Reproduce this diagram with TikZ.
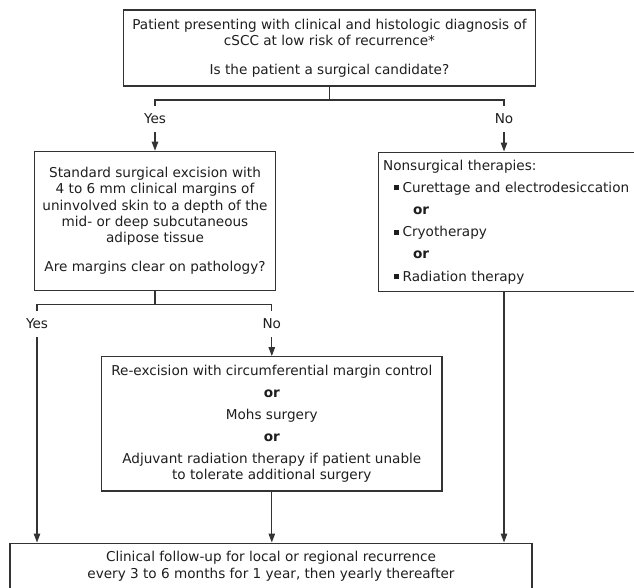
\documentclass[tikz,border=0pt]{standalone}
\usepackage{fontspec}
\setmainfont{DejaVu Sans}
\usepackage{xcolor}
\usetikzlibrary{arrows.meta}

\definecolor{ink}{HTML}{1E1E1E}
\definecolor{rule}{HTML}{333333}
\newcommand{\sqbul}{\rule[2pt]{5pt}{5pt}}

\begin{document}
\begin{tikzpicture}[x=1pt, y=-1pt,
    box/.style={draw=rule, line width=1.2pt, text=ink, align=center, inner sep=0pt,
        font=\fontsize{13.6pt}{16.3pt}\selectfont},
    lbl/.style={text=ink, inner sep=0pt, minimum height=26pt, font=\fontsize{13.6pt}{15pt}\selectfont},
    wire/.style={draw=rule, line width=1.2pt},
    arr/.style={wire, -{Triangle[length=9pt, width=6.5pt]}}]

        \useasboundingbox (0,0) rectangle (634,587);
        \clip (0,0) rectangle (634,587);

        \node[box, minimum width=412pt, minimum height=76pt] (cand) at (329.5,48)
            {Patient presenting with clinical and histologic diagnosis of\\
             cSCC at low risk of recurrence*\\[12.7pt]
             Is the patient a surgical candidate?};
        \node[lbl] (yes1) at (155,119) {Yes};
        \node[lbl] (no1) at (504,119) {No};
        \node[box, minimum width=240.5pt, minimum height=139.5pt] (surg) at (155,221)
            {Standard surgical excision with\\
             4 to 6 mm clinical margins of\\
             uninvolved skin to a depth of the\\
             mid- or deep subcutaneous\\
             adipose tissue\\[12.7pt]
             Are margins clear on pathology?};
        \node[box, anchor=north west, text width=262pt, minimum height=139.5pt, align=left,
            inner xsep=4.5pt, font=\fontsize{13.6pt}{22.2pt}\selectfont] (nonsurg) at (378,151.5)
            {Nonsurgical therapies:\\
             \hspace*{10.5pt}\sqbul\hspace{4pt}Curettage and electrodesiccation\\
             \hspace*{30pt}\textbf{or}\\
             \hspace*{10.5pt}\sqbul\hspace{4pt}Cryotherapy\\
             \hspace*{30pt}\textbf{or}\\
             \hspace*{10.5pt}\sqbul\hspace{4pt}Radiation therapy};
        \node[lbl] (yes2) at (37,324) {Yes};
        \node[lbl] (no2) at (271.8,324) {No};
        \node[box, minimum width=340.4pt, minimum height=134.3pt] (redo) at (271.8,423.8)
            {Re-excision with circumferential margin control\\[5.7pt]
             \textbf{or}\\[5.7pt]
             Mohs surgery\\[5.7pt]
             \textbf{or}\\[5.7pt]
             Adjuvant radiation therapy if patient unable\\
             to tolerate additional surgery};
        \node[box, anchor=north, minimum width=522pt, minimum height=46pt] (follow) at (271,542.5)
            {Clinical follow-up for local or regional recurrence\\
             every 3 to 6 months for 1 year, then yearly thereafter};

        % forks
        \coordinate (fork1) at (329.5,100);
        \coordinate (fork2) at (155,304.5);
        \draw[wire] (cand.south) -- (fork1);
        \draw[wire] (yes1.north) |- (fork1) -| (no1.north);
        \draw[wire] (surg.south) -- (fork2);
        \draw[wire] (yes2.north) |- (fork2) -| (no2.north);

        % arrows
        \draw[arr] (yes1.south) -- (surg.north);
        \draw[arr] (no1.south) -- (no1.south |- nonsurg.north);
        \draw[arr] (no2.south) -- (no2.south |- redo.north);
        \draw[arr] (yes2.south) -- (yes2.south |- follow.north);
        \draw[arr] (redo.south) -- (redo.south |- follow.north);
        \draw[arr] (no1.south |- nonsurg.south) -- (no1.south |- follow.north);
\end{tikzpicture}
\end{document}
